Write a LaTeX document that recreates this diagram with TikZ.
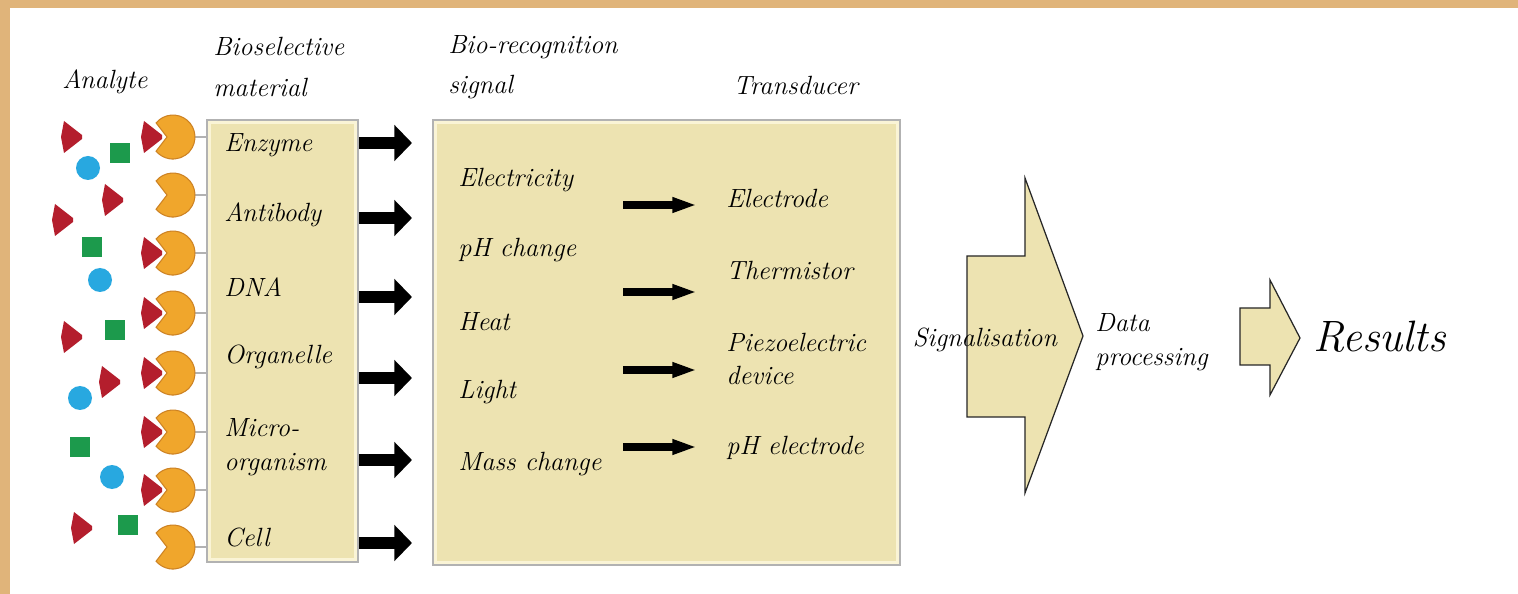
\documentclass[tikz,border=0pt]{standalone}
\usepackage{fontspec}
\usetikzlibrary{arrows.meta,positioning}
\definecolor{boxtan}{RGB}{237,227,177}
\definecolor{boxcream}{RGB}{250,244,214}
\definecolor{framebrown}{RGB}{224,180,122}
\definecolor{pacorange}{RGB}{240,166,44}
\definecolor{pacedge}{RGB}{205,130,35}
\definecolor{anared}{RGB}{180,30,45}
\definecolor{anablue}{RGB}{40,168,224}
\definecolor{anagreen}{RGB}{28,154,76}
\newcommand{\bodyfont}{\fontsize{15}{19}\selectfont\itshape}
\newcommand{\pacman}[1]{\filldraw[pac] (#1) ++(-6,0) -- ++(-10.9,-14.1) arc[start angle=-140,end angle=140,radius=22] -- cycle;}
\newcommand{\redtag}[1]{\fill[anared] (#1) ++(-8,-16) -- ++(18,14) -- ++(0,4) -- ++(-18,14) -- ++(-3,-16) -- cycle;}

\begin{document}
\begin{tikzpicture}[x=0.02cm,y=-0.02cm,font=\bodyfont,>=Latex,
  lbl/.style={anchor=west,inner sep=0pt,align=left},
  box/.style={draw=gray!60,line width=1pt,fill=boxtan,inner sep=0pt},
  inframe/.style={draw=boxcream,line width=0.06cm},
  tether/.style={draw=gray!60,line width=0.8pt},
  pac/.style={fill=pacorange,draw=pacedge,line width=0.6pt},
  bigarrow/.style={line width=6.5pt,-{Triangle[length=10pt,width=20pt]}},
  midarrow/.style={line width=4.5pt,-{Triangle[length=14pt,width=8pt]}},
  flow/.style={draw=black!85,line width=0.7pt,fill=boxtan,line join=miter}]
\useasboundingbox (0,0) rectangle (1518,594);
\fill[white] (0,0) rectangle (1518,594);
\fill[framebrown] (0,0) rectangle (1518,8);
\fill[framebrown] (0,0) rectangle (10,594);
% headers
\node[lbl] (hana) at (62,82) {Analyte};
\node[lbl] (hsel) at (213,67) {Bioselective\\[4pt]material};
\node[lbl] (hsig) at (448,67) {Bio-recognition\\[4pt]signal};
\node[lbl] (htra) at (733,85) {Transducer};
% the two boxes
\node[box,minimum width=3.02cm,minimum height=8.84cm] (sel) at (282.5,341) {};
\draw[inframe] ([shift={(3,3)}]sel.north west) rectangle ([shift={(-3,-3)}]sel.south east);
\node[box,minimum width=9.34cm,minimum height=8.9cm] (sig) at (666.5,342.5) {};
\draw[inframe] ([shift={(3,3)}]sig.north west) rectangle ([shift={(-3,-3)}]sig.south east);
% receptors
\foreach \py [count=\i] in {137,195,253,313,373,432,490,547} {
  \coordinate (p\i) at (173,\py);
  \coordinate (b\i) at (152,\py);
  \draw[tether] (p\i) -- (sel.west |- p\i);
  \pacman{p\i}
}
\foreach \i in {1,3,4,5,6,7} {\redtag{b\i}}
% free analytes
\foreach \x/\y in {72/137,113/200,63/220,72/337,110/382,82/528} {\redtag{\x,\y}}
\foreach \x/\y in {88/168,100/280,80/398,112/477} {\fill[anablue] (\x,\y) circle[radius=12];}
\foreach \x/\y in {120/153,92/247,115/330,80/447,128/525} {\fill[anagreen] (\x,\y) ++(-10,-10) rectangle ++(20,20);}
% bioselective material
\node[lbl] (enz) at (224,145) {Enzyme};
\node[lbl] (ab) at (224,215) {Antibody};
\node[lbl] (dna) at (224,287) {DNA};
\node[lbl] (org) at (224,357) {Organelle};
\node[lbl] (mic) at (224,447) {Micro-\\organism};
\node[lbl] (cell) at (224,537) {Cell};
\foreach \ay [count=\i] in {143,218,297,378,460,543} {
  \coordinate (t\i) at (412,\ay);
  \draw[bigarrow] (sel.east |- t\i) -- (t\i);
}
% signal -> transducer
\node[lbl] (ele) at (458,180) {Electricity};
\node[lbl] (ph) at (458,250) {pH change};
\node[lbl] (heat) at (458,322) {Heat};
\node[lbl] (light) at (458,392) {Light};
\node[lbl] (mass) at (458,464) {Mass change};
\node[lbl] (eld) at (726,198) {Electrode};
\node[lbl] (thm) at (726,270) {Thermistor};
\node[lbl] (pzo) at (726,359) {Piezoelectric\\device};
\node[lbl] (phe) at (726,448) {pH electrode};
\foreach \ay [count=\i] in {205,292,370,447} {
  \coordinate (s\i) at (623,\ay);
  \coordinate (d\i) at (697,\ay);
  \draw[midarrow] (s\i) -- (d\i);
}
% output stages
\draw[flow] (967,256) -- (1025,256) -- (1025,178) -- (1083,336) -- (1025,493) -- (1025,417) -- (967,417) -- cycle;
\node (sgn) at (985,340) {Signalisation};
\node[lbl] (dat) at (1095,342) {Data\\processing};
\draw[flow] (1240,308) -- (1270,308) -- (1270,280) -- (1300,338) -- (1270,395) -- (1270,365) -- (1240,365) -- cycle;
\node[lbl,font=\fontsize{25}{30}\selectfont\itshape] (res) at (1313,337) {Results};
\end{tikzpicture}
\end{document}
